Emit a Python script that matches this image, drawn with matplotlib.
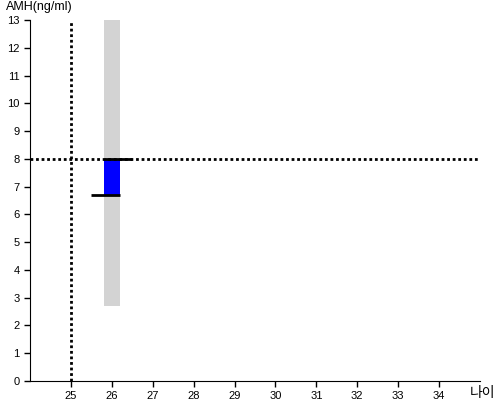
import matplotlib
matplotlib.use("Agg")
import matplotlib.pyplot as plt

plt.rcParams['font.family'] = ['Liberation Sans', 'Noto Sans CJK KR', 'DejaVu Sans']

# data
age = 26
range_low, range_high = 2.7, 13
value_low, value_high = 6.7, 8.0
ref_age = 25
ref_amh = 8.0
x_ticks = list(range(25, 35))
y_ticks = list(range(0, 14))

fig = plt.figure(figsize=(5, 4), dpi=100)
ax = fig.add_axes([0.06, 0.0475, 0.90, 0.9025])

ax.bar(age, range_high - range_low, bottom=range_low, width=0.4, color='#d3d3d3', zorder=1)
ax.bar(age, value_high - value_low, bottom=value_low, width=0.4, color='#0000ff', zorder=2)
ax.hlines(value_low, age - 0.5, age + 0.2, color='black', lw=2, zorder=3)
ax.hlines(value_high, age - 0.2, age + 0.5, color='black', lw=2, zorder=3)

ax.axvline(ref_age, color='black', ls=(0, (1, 1)), lw=2, zorder=4)
ax.axhline(ref_amh, color='black', ls=(0, (1, 1)), lw=2, zorder=4)

ax.set_xlim(24, 35)
ax.set_ylim(0, 13)
ax.set_xticks(x_ticks)
ax.set_yticks(y_ticks)
ax.tick_params(labelsize=8, length=4, width=1)
for s in ['top', 'right']:
    ax.spines[s].set_visible(False)

fig.text(0.012, 0.997, 'AMH(ng/ml)', fontsize=9, ha='left', va='top')
fig.text(0.94, 0.018, '나이', fontsize=10, ha='left', va='center')

fig.savefig('out.png')
